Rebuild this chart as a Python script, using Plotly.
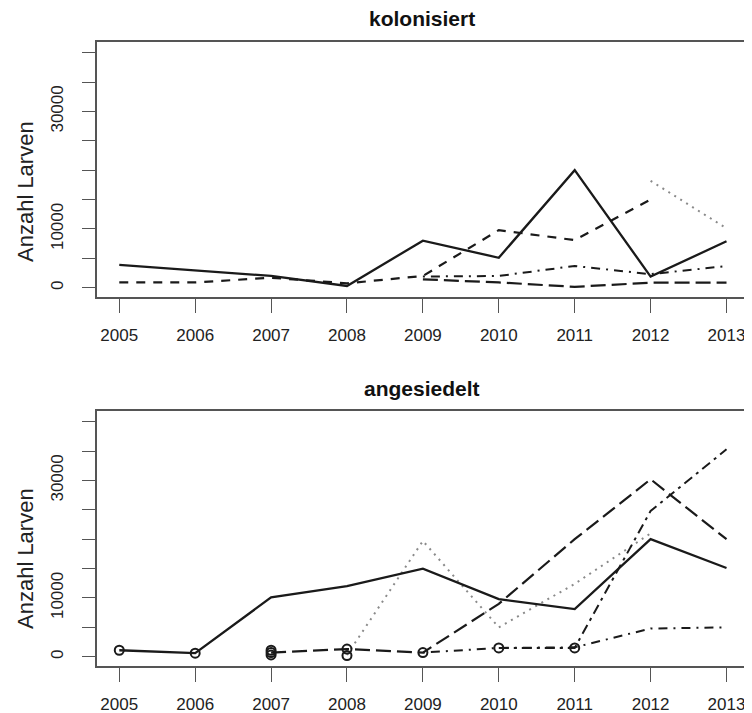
import plotly.graph_objects as go

years = [2005, 2006, 2007, 2008, 2009, 2010, 2011, 2012, 2013]
year_labels = [str(y) for y in years]

y_tickvals = [0, 5000, 10000, 15000, 20000, 25000, 30000, 35000, 40000]
y_ticktext = ["0", "", "10000", "", "", "", "30000", "", ""]

titles = ["kolonisiert", "angesiedelt"]
ylab = "Anzahl Larven"

# --- kolonisiert (top panel) ---
kol_solid = [3900, 2900, 2000, 300, 8000, 5100, 20000, 1900, 7900]
kol_dashed = [900, 900, 1700, 750, 2000, 9800, 8100, 15000, None]
kol_dotted = [None, None, None, None, None, None, None, 18200, 10100]
kol_longdash = [None, None, None, None, 1430, 900, 150, 850, 850]
kol_dotdash = [None, None, None, None, 1900, 2000, 3700, 2300, 3700]

# --- angesiedelt (bottom panel) ---
ang_solid = [1100, 600, 10100, 12000, 15000, 9800, 8100, 20000, 15100]
ang_longdash = [None, None, 700, 1300, 700, 9000, 20000, 30200, 20000]
ang_dotted = [None, None, None, 300, 19700, 5000, 12400, 21000, None]
ang_dotdash = [None, None, None, None, 700, 1500, 1600, 4800, 5000]
ang_twodash = [None, None, None, None, None, 1500, 1500, 24800, 35300]

ang_point_years = [2005, 2006, 2007, 2007, 2007, 2008, 2008, 2009, 2010, 2011]
ang_point_vals = [1100, 600, 300, 700, 1100, 1300, 200, 700, 1500, 1500]

# page is 752x713; the browser's default body margin offsets the figure by 8px
OFF = 8
SW, SH = 752, 713
W, H = SW - OFF, SH - OFF
FONT = "Liberation Sans, Arial, Helvetica, sans-serif"
INK = "#1a1a1a"
BOX = "#555555"


def fx(px):
    return (px - OFF) / W


def fy(py):
    return (SH - py) / H


styles = {
    "solid": dict(color=INK, width=2.3, dash="solid"),
    "dashed": dict(color=INK, width=2.2, dash="9px,8px"),
    "dotted": dict(color="#8a8a8a", width=2.0, dash="2px,5px"),
    "longdash": dict(color=INK, width=2.2, dash="15px,6px"),
    "dotdash": dict(color=INK, width=2.0, dash="2px,6px,9px,6px"),
    "twodash": dict(color=INK, width=2.0, dash="10px,5px,3px,5px"),
}

fig = go.Figure()

top_series = [
    (kol_dotted, "dotted"),
    (kol_dashed, "dashed"),
    (kol_longdash, "longdash"),
    (kol_dotdash, "dotdash"),
    (kol_solid, "solid"),
]
for vals, st in top_series:
    fig.add_trace(go.Scatter(x=years, y=vals, mode="lines", line=styles[st],
                             connectgaps=False, showlegend=False,
                             xaxis="x", yaxis="y", hoverinfo="skip"))

bot_series = [
    (ang_dotted, "dotted"),
    (ang_dotdash, "dotdash"),
    (ang_twodash, "twodash"),
    (ang_longdash, "longdash"),
    (ang_solid, "solid"),
]
for vals, st in bot_series:
    fig.add_trace(go.Scatter(x=years, y=vals, mode="lines", line=styles[st],
                             connectgaps=False, showlegend=False,
                             xaxis="x2", yaxis="y2", hoverinfo="skip"))

fig.add_trace(go.Scatter(x=ang_point_years, y=ang_point_vals, mode="markers",
                         marker=dict(symbol="circle-open", size=9, color=INK,
                                     line=dict(color=INK, width=2)),
                         showlegend=False, xaxis="x2", yaxis="y2",
                         hoverinfo="skip"))

x_dom = [fx(96.5), fx(747)]
top_box = (41.7, 297.0)
bot_box = (410.7, 666.0)


def ydom(box):
    return [fy(box[1]), fy(box[0])]


xaxis_common = dict(
    domain=x_dom, range=[2004.7, 2013.27], automargin=False,
    tickmode="array", tickvals=years, ticktext=year_labels,
    ticks="outside", ticklen=14, tickwidth=1.3, tickcolor=BOX,
    showline=True, mirror=True, linecolor=BOX, linewidth=1.5,
    showgrid=False, zeroline=False,
    tickfont=dict(family=FONT, size=17, color="#222222"),
    ticklabelstandoff=8,
)
yaxis_common = dict(
    range=[-1580, 41870], automargin=False,
    tickmode="array", tickvals=y_tickvals, ticktext=y_ticktext,
    tickangle=-90,
    ticks="outside", ticklen=13, tickwidth=1.3, tickcolor=BOX,
    showline=True, mirror=True, linecolor=BOX, linewidth=1.5,
    showgrid=False, zeroline=False,
    tickfont=dict(family=FONT, size=17, color="#222222"),
    ticklabelstandoff=12,
)

fig.update_layout(
    width=W, height=H,
    margin=dict(l=0, r=0, t=0, b=0, autoexpand=False),
    paper_bgcolor="white", plot_bgcolor="white",
    xaxis=dict(**xaxis_common, anchor="y"),
    yaxis=dict(**yaxis_common, domain=ydom(top_box), anchor="x"),
    xaxis2=dict(**xaxis_common, anchor="y2"),
    yaxis2=dict(**yaxis_common, domain=ydom(bot_box), anchor="x2"),
)

ann = []
for title, ty in zip(titles, [18, 388]):
    ann.append(dict(text="<b>" + title + "</b>", x=fx(422), y=fy(ty),
                    xref="paper", yref="paper", showarrow=False,
                    xanchor="center", yanchor="middle",
                    font=dict(family=FONT, size=21, color="#111111")))
for cy in [192, 559]:
    ann.append(dict(text=ylab, x=fx(25), y=fy(cy), xref="paper",
                    yref="paper", showarrow=False, textangle=-90,
                    xanchor="center", yanchor="middle",
                    font=dict(family=FONT, size=22, color="#222222")))
fig.update_layout(annotations=ann)

fig.write_html("out.html")
